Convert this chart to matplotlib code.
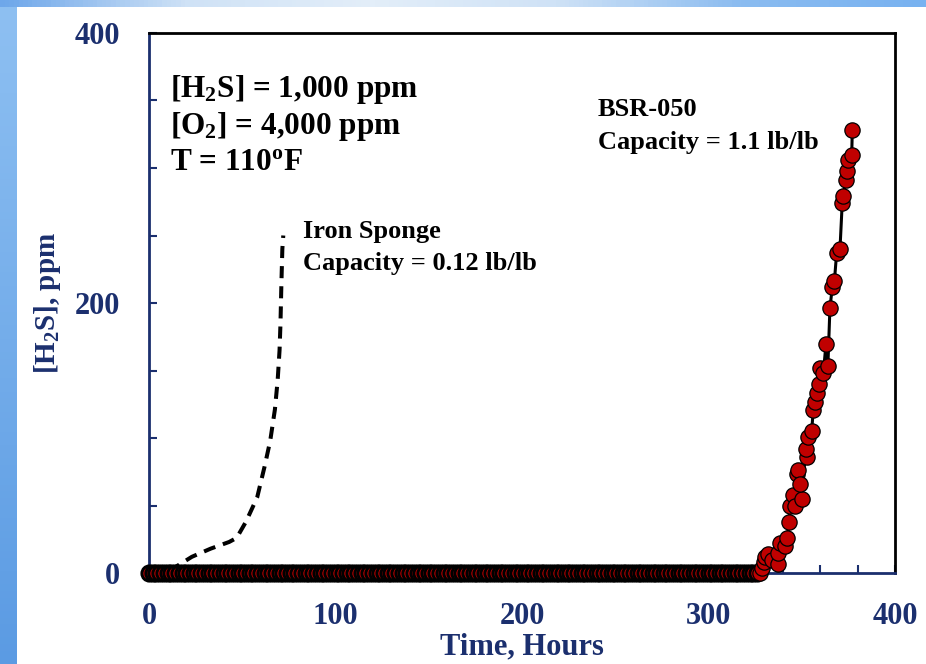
import numpy as np
import matplotlib.pyplot as plt
from matplotlib.colors import LinearSegmentedColormap
from matplotlib.ticker import MultipleLocator

plt.rcParams['font.family'] = 'Liberation Serif'
plt.rcParams['font.weight'] = 'bold'
plt.rcParams['axes.labelweight'] = 'bold'
plt.rcParams['mathtext.fontset'] = 'custom'
plt.rcParams['mathtext.rm'] = 'Liberation Serif:bold'
plt.rcParams['mathtext.it'] = 'Liberation Serif:bold'
plt.rcParams['mathtext.bf'] = 'Liberation Serif:bold'

navy = '#1b2f6e'

# Iron sponge outlet H2S (dashed curve)
iron_hours = [0, 10, 16, 23, 33, 43, 47, 52, 58, 62, 65, 67.5, 69, 70, 70.5, 71, 71.5, 72]
iron_ppm = [0, 1, 6, 12, 18, 23, 26, 38, 56, 79, 98, 121, 143, 165, 185, 215, 240, 250]

# BSR-050: no breakthrough, logged every 2 hours
bsr_flat_hours = [0, 2, 4, 6, 8, 10, 12, 14, 16, 18, 20, 22, 24, 26, 28, 30, 32, 34,
                  36, 38, 40, 42, 44, 46, 48, 50, 52, 54, 56, 58, 60, 62, 64, 66, 68,
                  70, 72, 74, 76, 78, 80, 82, 84, 86, 88, 90, 92, 94, 96, 98, 100,
                  102, 104, 106, 108, 110, 112, 114, 116, 118, 120, 122, 124, 126,
                  128, 130, 132, 134, 136, 138, 140, 142, 144, 146, 148, 150, 152,
                  154, 156, 158, 160, 162, 164, 166, 168, 170, 172, 174, 176, 178,
                  180, 182, 184, 186, 188, 190, 192, 194, 196, 198, 200, 202, 204,
                  206, 208, 210, 212, 214, 216, 218, 220, 222, 224, 226, 228, 230,
                  232, 234, 236, 238, 240, 242, 244, 246, 248, 250, 252, 254, 256,
                  258, 260, 262, 264, 266, 268, 270, 272, 274, 276, 278, 280, 282,
                  284, 286, 288, 290, 292, 294, 296, 298, 300, 302, 304, 306, 308,
                  310, 312, 314, 316, 318, 320, 322, 324, 326]
bsr_flat_ppm = [0] * len(bsr_flat_hours)

# BSR-050 breakthrough
bsr_rise_hours = [327.6, 328.5, 329.5, 330.3, 332, 333.9, 337.4, 337.4, 338.3, 341,
                  342.2, 343.3, 343.7, 345.1, 346.4, 347.3, 348.2, 350, 349, 352.6,
                  352.3, 353.5, 355.3, 356.2, 357, 358, 359.4, 359.8, 361.6, 363,
                  364, 365.1, 366.4, 367.5, 368.7, 370.5, 371.7, 372.3, 373.5, 374,
                  375, 376.8, 377.1]
bsr_rise_ppm = [0, 4, 8, 12, 14, 10, 7, 15, 22, 20,
                26, 38, 50, 58, 50, 73, 76, 55, 66, 86,
                92, 101, 105, 121, 127, 133, 140, 152, 148, 170,
                153, 196, 212, 216, 237, 240, 274, 279, 291, 298,
                306, 310, 328]

W, H = 926, 664
fig = plt.figure(figsize=(W / 100, H / 100), dpi=100)
fig.patch.set_facecolor('white')

# slide background edges
bg_left = fig.add_axes([0, 0, 17 / W, 1])
bg_left.imshow(np.linspace(0, 1, 100).reshape(-1, 1), aspect='auto',
               cmap=LinearSegmentedColormap.from_list('l', ['#8ec0f2', '#5b9be3']))
bg_left.axis('off')
bg_top = fig.add_axes([0, 1 - 7 / H, 1, 7 / H])
bg_top.imshow(np.linspace(0, 1, 200).reshape(1, -1), aspect='auto',
              cmap=LinearSegmentedColormap.from_list(
                  't', ['#6ea7ea', '#cfe2f6', '#e3eef9', '#cfe2f6', '#8bbcf0', '#78b2f0']))
bg_top.axis('off')

ax = fig.add_axes([149 / W, 91 / H, 746 / W, 540 / H])

ax.plot(iron_hours, iron_ppm, color='black', lw=2.9, linestyle=(0, (3, 2)), zorder=2)

mk = dict(marker='o', markersize=11, markerfacecolor='#c00000', markeredgecolor='black',
          clip_on=False)
ax.plot(bsr_flat_hours, bsr_flat_ppm, color='black', lw=2.2, markeredgewidth=2.1,
        zorder=3, **mk)
ax.plot([bsr_flat_hours[-1]] + bsr_rise_hours, [0] + bsr_rise_ppm, color='black', lw=2.2,
        markeredgewidth=0.9, markevery=slice(1, None), zorder=3.1, **mk)

ax.set_xlim(0, 400)
ax.set_ylim(0, 400)
ax.xaxis.set_major_locator(MultipleLocator(100))
ax.xaxis.set_minor_locator(MultipleLocator(20))
ax.yaxis.set_major_locator(MultipleLocator(200))
ax.yaxis.set_minor_locator(MultipleLocator(50))
ax.tick_params(which='both', direction='in', color=navy, width=1.5, length=6,
               labelcolor=navy, labelsize=22)
ax.tick_params(axis='x', which='major', pad=21)
ax.tick_params(axis='y', which='major', pad=21)

ax.spines['left'].set_color(navy)
ax.spines['bottom'].set_color(navy)
ax.spines['top'].set_color('black')
ax.spines['right'].set_color('black')
for s in ax.spines.values():
    s.set_linewidth(2)

ax.set_xlabel('Time, Hours', fontsize=22, color=navy)
ax.set_ylabel('[H$_2$S], ppm', fontsize=21, color=navy)
ax.xaxis.set_label_coords(0.5, (573 - 632) / 540)
ax.yaxis.set_label_coords((63 - 149) / 746, 0.5)


def ftext(x, y, s, size):
    fig.text(x / W, 1 - y / H, s, fontsize=size, color='black', va='baseline', ha='left')


ftext(170, 97, '[H$_2$S] = 1,000 ppm', 22.5)
ftext(170, 134, '[O$_2$] = 4,000 ppm', 22.5)
ftext(170, 170, 'T = 110$^o$F', 22.5)
ftext(303, 238, 'Iron Sponge', 19)
ftext(303, 270, 'Capacity = 0.12 lb/lb', 19)
ftext(598, 116, 'BSR-050', 19)
ftext(598, 149, 'Capacity = 1.1 lb/lb', 19)

fig.savefig('out.png', dpi=100)
